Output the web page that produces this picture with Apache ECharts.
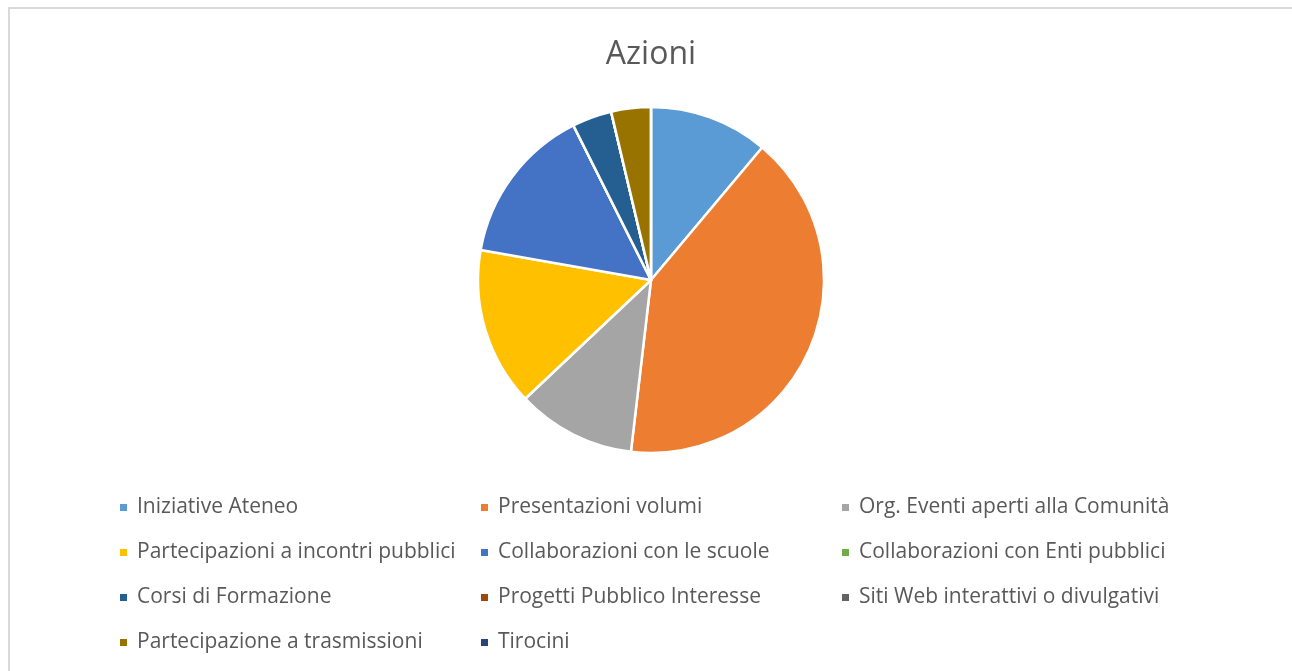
<!DOCTYPE html>
<html>
<head>
<meta charset="utf-8">
<script src="https://cdn.jsdelivr.net/npm/echarts@6/dist/echarts.min.js"></script>
<style>html,body{margin:0;padding:0;background:#fff}#c{width:1292px;height:671px}</style>
</head>
<body>
<div id="c"></div>
<script>
const titleText = "Azioni";
const categories = [
  "Iniziative Ateneo",
  "Presentazioni volumi",
  "Org. Eventi aperti alla Comunità",
  "Partecipazioni a incontri pubblici",
  "Collaborazioni con le scuole",
  "Collaborazioni con Enti pubblici",
  "Corsi di Formazione",
  "Progetti Pubblico Interesse",
  "Siti Web interattivi o divulgativi",
  "Partecipazione a trasmissioni",
  "Tirocini"
];
const values = [3, 11, 3, 4, 4, 0, 1, 0, 0, 1, 0];
const colors = ["#5B9BD5", "#ED7D31", "#A5A5A5", "#FFC000", "#4472C4", "#70AD47", "#255E91", "#9E480E", "#636363", "#997300", "#264478"];

const chart = echarts.init(document.getElementById('c'), null, {renderer: 'canvas'});
chart.setOption({
  animation: false,
  color: colors,
  graphic: [{
    type: 'rect', silent: true, z: -10,
    shape: {x: 9, y: 8, width: 1300, height: 700},
    style: {fill: '#fff', stroke: '#D9D9D9', lineWidth: 2}
  }],
  title: {
    text: titleText, left: 646, textAlign: 'center', top: 34,
    textStyle: {fontFamily: 'Open Sans', fontSize: 32, fontWeight: 'normal', color: '#595959'}
  },
  legend: {
    left: 118, top: 485, width: 1150, padding: 0, itemGap: 0,
    icon: 'rect', itemWidth: 9, itemHeight: 9,
    selectedMode: false,
    data: categories,
    textStyle: {fontFamily: 'Open Sans', fontSize: 21, color: '#595959', width: 342, lineHeight: 45, padding: [0, 0, 0, 4]}
  },
  series: [{
    type: 'pie', center: [651, 280], radius: 173,
    startAngle: 90, clockwise: true,
    label: {show: false}, labelLine: {show: false},
    emphasis: {disabled: true},
    itemStyle: {borderColor: '#fff', borderWidth: 2.5},
    data: categories.map((n, i) => ({name: n, value: values[i]}))
  }]
});
</script>
</body>
</html>
